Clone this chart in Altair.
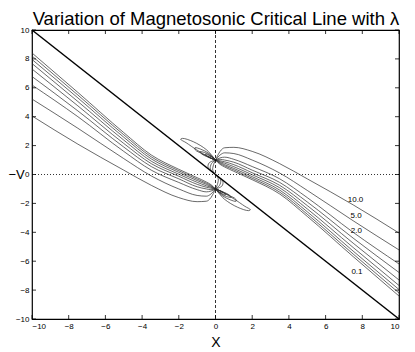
import altair as alt
import pandas as pd

# ---- data ----
RIGHT_X = [0, 0.25, 0.5, 1, 2, 3.5, 5, 7.5, 10]
RIGHT_Y = [
    [1, 1.6, 1.85, 1.88, 1.6, 0.75, -0.3, -2.1, -4.05],
    [1, 1.35, 1.5, 1.45, 1.0, 0.1, -1.1, -3.2, -5.22],
    [1, 1.15, 1.2, 1.05, 0.55, -0.3, -1.6, -4.0, -6.19],
    [1, 1.05, 1.0, 0.85, 0.3, -0.55, -1.9, -4.4, -6.78],
    [1, 0.95, 0.88, 0.68, 0.12, -0.75, -2.15, -4.75, -7.30],
    [1, 0.88, 0.78, 0.54, -0.02, -0.92, -2.38, -5.05, -7.68],
    [1, 0.82, 0.68, 0.42, -0.15, -1.08, -2.58, -5.3, -7.96],
    [1, 0.76, 0.6, 0.32, -0.26, -1.22, -2.75, -5.5, -8.20],
    [1, 0.7, 0.52, 0.22, -0.36, -1.35, -2.9, -5.68, -8.41],
]

LEFT_X = [-10, -7.5, -5, -3.5, -2, -1, -0.5, -0.25, 0]
LEFT_Y = [
    [4.05, 2.1, 0.3, -0.75, -1.6, -1.88, -1.85, -1.6, -1],
    [5.22, 3.2, 1.1, -0.1, -1.0, -1.45, -1.5, -1.35, -1],
    [6.19, 4.0, 1.6, 0.3, -0.55, -1.05, -1.2, -1.15, -1],
    [6.78, 4.4, 1.9, 0.55, -0.3, -0.85, -1.0, -1.05, -1],
    [7.30, 4.75, 2.15, 0.75, -0.12, -0.68, -0.88, -0.95, -1],
    [7.68, 5.05, 2.38, 0.92, 0.02, -0.54, -0.78, -0.88, -1],
    [7.96, 5.3, 2.58, 1.08, 0.15, -0.42, -0.68, -0.82, -1],
    [8.20, 5.5, 2.75, 1.22, 0.26, -0.32, -0.6, -0.76, -1],
    [8.41, 5.68, 2.9, 1.35, 0.36, -0.22, -0.52, -0.7, -1],
]

# teardrop loops attached at (0, 1) (upper left) and (0, -1) (lower right)
LOOP_UL_X = [
    [0, -0.48, -1.21, -1.8, -1.9, -1.6, -1.02, -0.39, 0],
    [0, -0.35, -0.8, -1.12, -1.1, -0.75, -0.3, 0],
    [0, -0.25, -0.6, -0.84, -0.75, -0.4, 0],
    [0, -0.2, -0.45, -0.57, -0.45, -0.2, 0],
    [0, -0.15, -0.33, -0.39, -0.28, 0],
]
LOOP_UL_Y = [
    [1, 1.70, 2.27, 2.5, 2.44, 2.2, 1.70, 1.23, 1],
    [1, 1.45, 1.75, 1.85, 1.7, 1.45, 1.15, 1],
    [1, 1.3, 1.52, 1.58, 1.42, 1.2, 1],
    [1, 1.22, 1.38, 1.4, 1.28, 1.1, 1],
    [1, 1.17, 1.27, 1.25, 1.15, 1],
]
LOOP_LR_X = [
    [0, 0.48, 1.21, 1.8, 1.9, 1.6, 1.02, 0.39, 0],
    [0, 0.35, 0.8, 1.12, 1.1, 0.75, 0.3, 0],
    [0, 0.25, 0.6, 0.84, 0.75, 0.4, 0],
    [0, 0.2, 0.45, 0.57, 0.45, 0.2, 0],
    [0, 0.15, 0.33, 0.39, 0.28, 0],
]
LOOP_LR_Y = [
    [-1, -1.70, -2.27, -2.5, -2.44, -2.2, -1.70, -1.23, -1],
    [-1, -1.45, -1.75, -1.85, -1.7, -1.45, -1.15, -1],
    [-1, -1.3, -1.52, -1.58, -1.42, -1.2, -1],
    [-1, -1.22, -1.38, -1.4, -1.28, -1.1, -1],
    [-1, -1.17, -1.27, -1.25, -1.15, -1],
]

# short links between (0, 1) and (0, -1) through the origin
LINK_X = [
    [0, -0.1, -0.15, 0, 0.15, 0.1, 0],
    [0, -0.22, -0.28, 0, 0.28, 0.22, 0],
    [0, -0.35, -0.4, 0, 0.4, 0.35, 0],
]
LINK_Y = [
    [1, 0.7, 0.3, 0, -0.3, -0.7, -1],
    [1, 0.75, 0.38, 0, -0.38, -0.75, -1],
    [1, 0.8, 0.48, 0, -0.48, -0.8, -1],
]

THICK_X = [-10, 10]
THICK_Y = [10, -10]

LABEL_TEXT = ["10.0", "5.0", "2.0", "0.1"]
LABEL_X = [7.63, 7.66, 7.68, 7.71]
LABEL_Y = [-1.76, -2.87, -3.91, -6.75]

TICKS = [-10, -8, -6, -4, -2, 0, 2, 4, 6, 8, 10]
TITLE = "Variation of Magnetosonic Critical Line with \u03bb"

# ---- build tables ----
rows = []
for i, ys in enumerate(RIGHT_Y):
    for j, (x, y) in enumerate(zip(RIGHT_X, ys)):
        rows.append({"id": f"R{i}", "x": x, "y": y, "o": j})
for i, ys in enumerate(LEFT_Y):
    for j, (x, y) in enumerate(zip(LEFT_X, ys)):
        rows.append({"id": f"L{i}", "x": x, "y": y, "o": j})
curves = pd.DataFrame(rows)

lrows = []
for name, XS, YS in (("UL", LOOP_UL_X, LOOP_UL_Y), ("LR", LOOP_LR_X, LOOP_LR_Y), ("LK", LINK_X, LINK_Y)):
    for i, (xs_, ys_) in enumerate(zip(XS, YS)):
        for j, (x, y) in enumerate(zip(xs_, ys_)):
            lrows.append({"id": f"{name}{i}", "x": x, "y": y, "o": j})
loops = pd.DataFrame(lrows)

thick = pd.DataFrame({"x": THICK_X, "y": THICK_Y})
labels = pd.DataFrame({"t": LABEL_TEXT, "x": LABEL_X, "y": LABEL_Y})
ticks = pd.DataFrame({"x": TICKS, "y": TICKS})
one = pd.DataFrame({"x": [0], "y": [0]})

W, H = 367, 289
FONT = "Liberation Sans"
xs = alt.Scale(domain=[-10, 10], nice=False, zero=False)
ys = alt.Scale(domain=[-10, 10], nice=False, zero=False)

XAX = alt.Axis(values=TICKS, tickSize=0, grid=False, domain=False,
               labelFontSize=8, labelPadding=3, labelColor="black",
               labelFont=FONT, title="X", titleFontSize=14,
               titleFont=FONT, titleFontWeight="normal",
               titlePadding=5, titleColor="black")
YAX = alt.Axis(values=TICKS, tickSize=0, grid=False, domain=False,
               labelFontSize=8, labelPadding=3, labelColor="black",
               labelFont=FONT, title="\u2212V", titleFontSize=13,
               titleFont=FONT, titleFontWeight="normal",
               titleAngle=0, titleAlign="left", titleBaseline="middle",
               titleX=-24, titleY=144, titleColor="black")

X = alt.X("x:Q", scale=xs, axis=XAX)
Y = alt.Y("y:Q", scale=ys, axis=YAX)

curve_layer = alt.Chart(curves).mark_line(color="#2a2a2a", strokeWidth=0.7, interpolate="monotone").encode(
    x=X, y=Y, detail="id:N", order="o:Q")
loop_layer = alt.Chart(loops).mark_line(color="#2a2a2a", strokeWidth=0.7, interpolate="catmull-rom").encode(
    x=X, y=Y, detail="id:N", order="o:Q")
thick_layer = alt.Chart(thick).mark_line(color="black", strokeWidth=1.5).encode(x=X, y=Y)

zero_h = alt.Chart(one).mark_rule(color="black", strokeWidth=0.8, strokeDash=[1, 2]).encode(
    y=Y, x=alt.value(0), x2=alt.value(W))
zero_v = alt.Chart(one).mark_rule(color="black", strokeWidth=0.8, strokeDash=[3, 2]).encode(
    x=X, y=alt.value(0), y2=alt.value(H))

tb = alt.Chart(ticks).mark_rule(color="black", strokeWidth=0.8).encode(
    x=X, y=alt.value(H), y2=alt.value(H - 4))
tt = alt.Chart(ticks).mark_rule(color="black", strokeWidth=0.8).encode(
    x=X, y=alt.value(0), y2=alt.value(4))
tl = alt.Chart(ticks).mark_rule(color="black", strokeWidth=0.8).encode(
    y=Y, x=alt.value(0), x2=alt.value(4))
tr = alt.Chart(ticks).mark_rule(color="black", strokeWidth=0.8).encode(
    y=Y, x=alt.value(W), x2=alt.value(W - 4))

label_layer = alt.Chart(labels).mark_text(fontSize=8, font=FONT, color="black").encode(
    x=X, y=Y, text="t:N")

title_layer = alt.Chart(one).mark_text(fontSize=18.5, font=FONT, color="black", baseline="alphabetic",
                                       align="center", text=TITLE).encode(
    x=alt.value(184), y=alt.value(-5.5))

chart = alt.layer(curve_layer, loop_layer, thick_layer, zero_h, zero_v, tb, tt, tl, tr,
                  label_layer, title_layer).properties(
    width=W, height=H, autosize=alt.AutoSizeParams(type="none"),
    padding={"left": 24, "top": 22, "right": 8, "bottom": 33}
).configure_view(stroke="black", strokeWidth=1.2)

chart.save("out.html", embed_options={"renderer": "svg", "actions": False})
